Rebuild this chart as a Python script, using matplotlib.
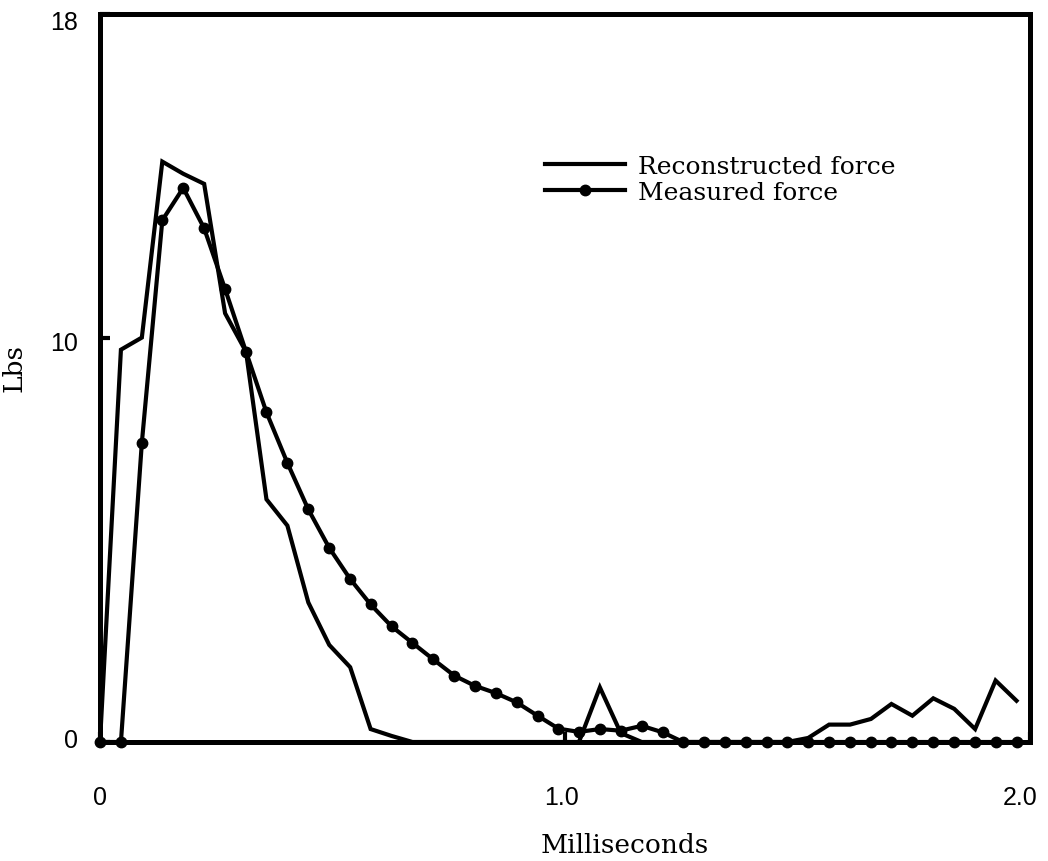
import matplotlib
matplotlib.use("Agg")
import matplotlib.pyplot as plt
from matplotlib.transforms import ScaledTranslation

# Time grid (ms)
time_ms = [0.000, 0.045, 0.090, 0.134, 0.179, 0.224, 0.269, 0.314, 0.358, 0.403,
           0.448, 0.493, 0.538, 0.582, 0.627, 0.672, 0.717, 0.762, 0.806, 0.851,
           0.896, 0.941, 0.986, 1.030, 1.075, 1.120, 1.165, 1.210, 1.254, 1.299,
           1.344, 1.389, 1.434, 1.478, 1.523, 1.568, 1.613, 1.658, 1.702, 1.747,
           1.792, 1.837, 1.882, 1.926, 1.971]

reconstructed = [0.0, 9.7, 10.0, 14.35, 14.05, 13.8, 10.6, 9.65, 6.0, 5.35,
                 3.45, 2.4, 1.85, 0.32, 0.15, 0.0, 0.0, 0.0, 0.0, 0.0,
                 0.0, 0.0, 0.0, 0.0, 1.35, 0.22, 0.0, 0.0, 0.0, 0.0,
                 0.0, 0.0, 0.0, 0.0, 0.1, 0.43, 0.43, 0.57, 0.94, 0.65,
                 1.08, 0.82, 0.32, 1.52, 1.02]

measured = [0.0, 0.0, 7.4, 12.9, 13.7, 12.7, 11.2, 9.65, 8.15, 6.9,
            5.75, 4.8, 4.03, 3.4, 2.86, 2.45, 2.04, 1.64, 1.39, 1.21,
            0.98, 0.65, 0.33, 0.25, 0.32, 0.28, 0.4, 0.24, 0.0, 0.0,
            0.0, 0.0, 0.0, 0.0, 0.0, 0.0, 0.0, 0.0, 0.0, 0.0,
            0.0, 0.0, 0.0, 0.0, 0.0]

x_ticks = [0, 1.0, 2.0]
x_tick_labels = ["0", "1.0", "2.0"]
y_ticks = [0, 10, 18]
y_tick_labels = ["0", "10", "18"]

serif = ["DejaVu Serif"]
sans = ["Liberation Sans", "DejaVu Sans"]

fig = plt.figure(figsize=(10.48, 8.62), dpi=100)
ax = fig.add_axes([100/1048, 1-743/862, 930/1048, 728/862])

ax.plot(time_ms, reconstructed, color="black", lw=3, solid_joinstyle="miter",
        label="Reconstructed force", clip_on=False, zorder=3)
ax.plot(time_ms, measured, color="black", lw=3, marker="o", markersize=7.5,
        label="Measured force", clip_on=False, zorder=3)

ax.set_xlim(0, 2.0)
ax.set_ylim(0, 18)

for s in ax.spines.values():
    s.set_linewidth(3.6)

ax.set_xticks(x_ticks)
ax.set_xticklabels(x_tick_labels, fontfamily=sans, fontsize=18)
ax.set_yticks(y_ticks)
ax.set_yticklabels(y_tick_labels, fontfamily=sans, fontsize=18)
ax.tick_params(axis="both", direction="in", length=7, width=3)
ax.tick_params(axis="x", pad=31)
ax.tick_params(axis="y", pad=16)

# small offsets to match the reference label placement
xl = ax.get_xticklabels()
xl[1].set_transform(xl[1].get_transform() + ScaledTranslation(-4/100, 0, fig.dpi_scale_trans))
xl[2].set_transform(xl[2].get_transform() + ScaledTranslation(-10/100, 0, fig.dpi_scale_trans))
yl = ax.get_yticklabels()
yl[0].set_transform(yl[0].get_transform() + ScaledTranslation(0, 4/100, fig.dpi_scale_trans))
yl[1].set_transform(yl[1].get_transform() + ScaledTranslation(0, -3/100, fig.dpi_scale_trans))
yl[2].set_transform(yl[2].get_transform() + ScaledTranslation(0, -6/100, fig.dpi_scale_trans))

ax.set_xlabel("Milliseconds", fontfamily=serif, fontsize=19)
ax.xaxis.set_label_coords(0.5645, -0.124)
ax.set_ylabel("Lbs", fontfamily=serif, fontsize=19)
ax.yaxis.set_label_coords(-0.079, 0.515)

leg = ax.legend(loc="upper left", bbox_to_anchor=(545/1048, 1-156/862),
                bbox_transform=fig.transFigure, frameon=False,
                prop={"family": serif, "size": 18}, handlelength=3.2,
                handletextpad=0.5, labelspacing=0.12, borderpad=0,
                borderaxespad=0, numpoints=1)

fig.savefig("out.png", dpi=100)
